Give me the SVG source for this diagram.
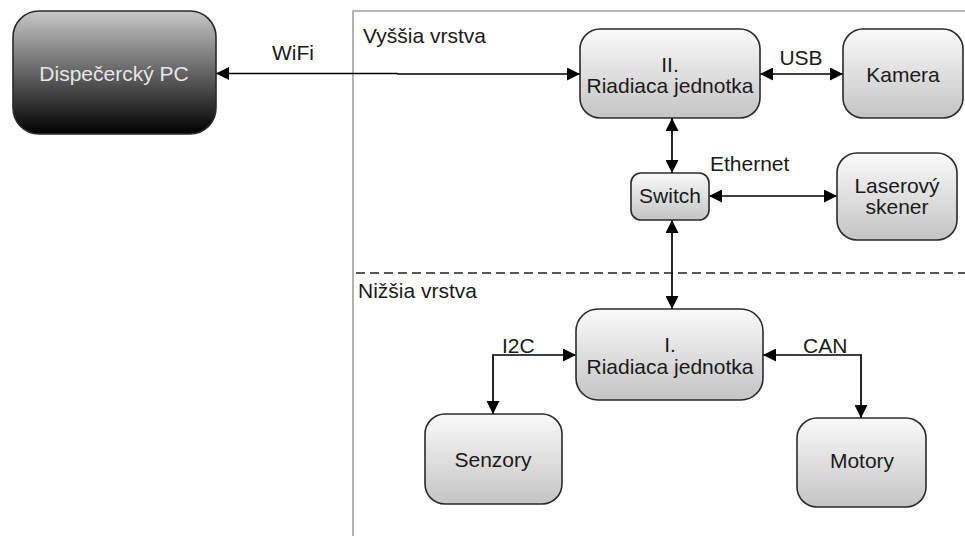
<svg xmlns="http://www.w3.org/2000/svg" width="965" height="536" viewBox="0 0 965 536">
  <defs>
    <linearGradient id="gLight" x1="0" y1="0" x2="0" y2="1">
      <stop offset="0" stop-color="#fafafa"/>
      <stop offset="1" stop-color="#c4c4c4"/>
    </linearGradient>
    <linearGradient id="gDark" x1="0" y1="0" x2="0" y2="1">
      <stop offset="0" stop-color="#c8c8c8"/>
      <stop offset="0.55" stop-color="#5a5a5a"/>
      <stop offset="1" stop-color="#000000"/>
    </linearGradient>
    <marker id="arrow" viewBox="0 0 12 12" refX="12" refY="6" markerWidth="13" markerHeight="13" markerUnits="userSpaceOnUse" orient="auto-start-reverse">
      <path d="M0,0 L12,6 L0,12 z" fill="#000"/>
    </marker>
  </defs>
  <style>
    text { font-family: "Liberation Sans", Arial, sans-serif; font-size: 21px; fill: #1a1a1a; }
    .c { text-anchor: middle; }
    .box { fill: url(#gLight); stroke: #2a2a2a; stroke-width: 1.6; }
    .dark { fill: url(#gDark); stroke: #2a2a2a; stroke-width: 1.6; }
    .pc { fill: #e6e6e6; }
    .frame { fill: none; stroke: #a0a0a0; stroke-width: 1.6; }
    .wire { fill: none; stroke: #000; stroke-width: 1.7; marker-start: url(#arrow); marker-end: url(#arrow); }
  </style>

  <rect width="965" height="536" fill="#fff"/>

  <!-- layer frame and separator -->
  <g id="layers">
    <path class="frame" d="M353,536 V11 H965"/>
    <line x1="356" y1="273" x2="965" y2="273" stroke="#222" stroke-width="1.6" stroke-dasharray="9,5"/>
    <text x="363" y="43">Vyššia vrstva</text>
    <text x="358" y="298">Nižšia vrstva</text>
  </g>

  <!-- connectors -->
  <g id="connectors">
    <path class="wire" d="M216,73.5 H397 L398,74 H580"/>
    <text x="272" y="60">WiFi</text>
    <path class="wire" d="M760,74 H843"/>
    <text x="801" y="65" class="c">USB</text>
    <path class="wire" d="M672,118 V173"/>
    <path class="wire" d="M709,196 H837"/>
    <text x="710" y="171">Ethernet</text>
    <path class="wire" d="M672,220 V309"/>
    <path class="wire" d="M576,355 H493 V414"/>
    <text x="502" y="353">I2C</text>
    <path class="wire" d="M763,355 H861 V418"/>
    <text x="803" y="353">CAN</text>
  </g>

  <g id="pc">
    <rect class="dark" x="13" y="11" width="203" height="123" rx="26"/>
    <text x="114" y="81" class="c pc">Dispečercký PC</text>
  </g>

  <g id="unit2">
    <rect class="box" x="580" y="29" width="180" height="89" rx="20"/>
    <text x="670" y="72" class="c">II.</text>
    <text x="670" y="93" class="c">Riadiaca jednotka</text>
  </g>

  <g id="kamera">
    <rect class="box" x="843" y="29" width="120" height="89" rx="20"/>
    <text x="903" y="82" class="c">Kamera</text>
  </g>

  <g id="switch">
    <rect class="box" x="631" y="173" width="78" height="47" rx="10"/>
    <text x="670" y="203" class="c">Switch</text>
  </g>

  <g id="laser">
    <rect class="box" x="837" y="153" width="120" height="87" rx="20"/>
    <text x="897" y="193" class="c">Laserový</text>
    <text x="897" y="214" class="c">skener</text>
  </g>

  <g id="unit1">
    <rect class="box" x="576" y="309" width="187" height="91" rx="22"/>
    <text x="670" y="352" class="c">I.</text>
    <text x="670" y="374" class="c">Riadiaca jednotka</text>
  </g>

  <g id="senzory">
    <rect class="box" x="425" y="414" width="137" height="90" rx="20"/>
    <text x="493" y="467" class="c">Senzory</text>
  </g>

  <g id="motory">
    <rect class="box" x="797" y="418" width="129" height="89" rx="20"/>
    <text x="862" y="468" class="c">Motory</text>
  </g>
</svg>
